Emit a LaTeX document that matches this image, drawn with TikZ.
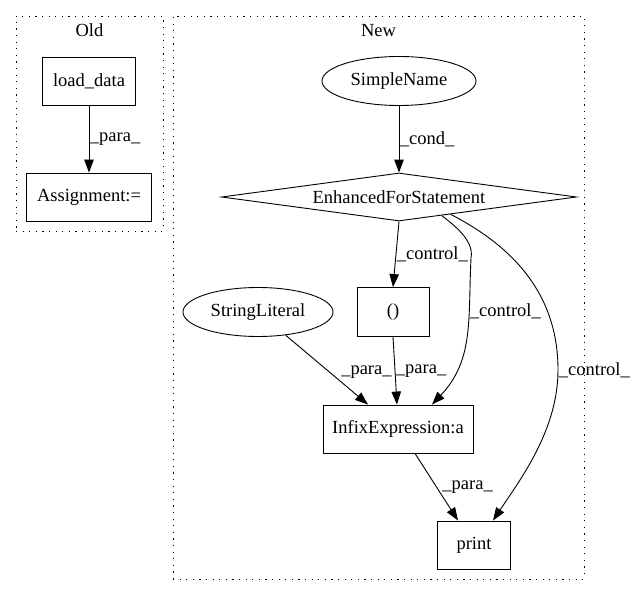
\documentclass[tikz,border=0pt]{standalone}
\usepackage{fontspec}
\setmainfont{Liberation Serif}
\usepackage{tikz}
\usetikzlibrary{shapes,shapes.geometric,arrows,arrows.meta,positioning,calc}

\begin{document}
\begin{tikzpicture}[
    x=1pt, y=-1pt,
    font=\fontsize{18.5pt}{21pt}\selectfont,
    line width=0.9pt,
    cluster/.style={rectangle, draw, line width=0.8pt, dash pattern=on 1.2pt off 5.4pt, inner sep=0pt},
    box/.style={rectangle, draw, inner sep=0pt, minimum height=48pt},
    oval/.style={ellipse, draw, inner sep=0pt, minimum height=49pt},
    cond/.style={diamond, draw, inner sep=0pt, shape aspect=7.4, minimum width=355pt, minimum height=48pt},
    lbl/.style={anchor=west, inner sep=0.5pt},
    arrow/.style={-{Triangle[length=13pt, width=9.5pt]}}
]
    \useasboundingbox (0,0) rectangle (632,596);

    % Old cluster
    \node[cluster, minimum width=147pt, minimum height=215pt,
          label={[anchor=north, inner sep=8pt]north:Old}] (old) at (89.5,123.5) {};
    \node[box, minimum width=93pt] (load) at (89,81) {load\_data};
    \node[box, minimum width=125pt] (assign) at (89,197) {Assignment:=};

    \draw[arrow] (load) -- node[lbl] {\_para\_} (assign);

    % New cluster
    \node[cluster, minimum width=411pt, minimum height=563pt,
          label={[anchor=north, inner sep=8pt]north:New}] (new) at (378.5,297.5) {};
    \node[oval, minimum width=154pt] (simple) at (399,81) {SimpleName};
    \node[cond] (efs) at (399,197) {EnhancedForStatement};
    \node[box, minimum width=72pt, minimum height=49pt] (paren) at (393,312) {()};
    \node[oval, minimum width=150pt] (string) at (258,312) {StringLiteral};
    \node[box, minimum width=150pt] (infix) at (398,429) {InfixExpression:a};
    \node[box, minimum width=73pt] (print) at (474,545) {print};

    % Edges
    \draw[arrow] (simple) -- node[lbl] {\_cond\_} (efs);
    \draw[arrow] (efs.south) -- node[lbl] {\_control\_} (paren.north);
    \draw[arrow] ($(efs.south)!0.24!(efs.east)$) .. controls (458,228) and (474,242) .. (471,258)
        .. controls (468,320) and (474,360) .. node[lbl, pos=0.32] {\_control\_} ([xshift=34pt]infix.north);
    \draw[arrow] ($(efs.south)!0.29!(efs.east)$) .. controls (520,250) and (558,300) .. node[lbl, pos=1] {\_control\_} (558,370)
        .. controls (558,430) and (520,480) .. ([xshift=19pt]print.north);
    \draw[arrow] (string.-40) -- node[lbl, pos=0.53, xshift=11pt] {\_para\_} ([xshift=-30pt]infix.north);
    \draw[arrow] (paren.south) -- node[lbl] {\_para\_} ([xshift=-1pt]infix.north);
    \draw[arrow] ([xshift=17pt]infix.south) -- node[lbl, xshift=5pt] {\_para\_} ([xshift=-16pt]print.north);

\end{tikzpicture}
\end{document}
